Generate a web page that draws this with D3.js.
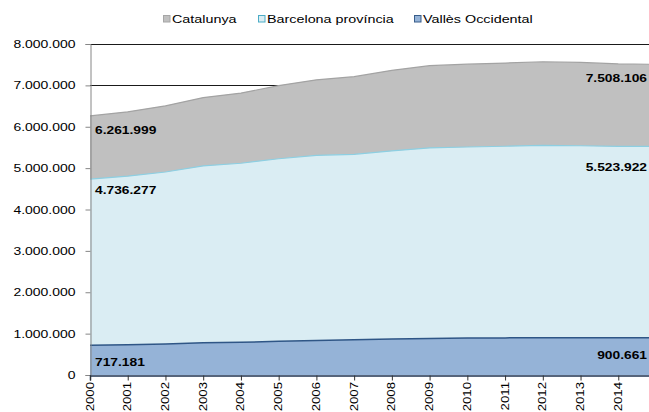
<!DOCTYPE html>
<html>
<head>
<meta charset="utf-8">
<script src="https://cdn.jsdelivr.net/npm/d3@7"></script>
<style>
  body { margin: 0; background: #fff; }
  svg { display: block; font-family: "Liberation Sans", Arial, sans-serif; }
</style>
</head>
<body>
<svg id="vis" width="649" height="412"></svg>
<script>
// data (padró, inhabitants)
var years = [2000, 2001, 2002, 2003, 2004, 2005, 2006, 2007, 2008, 2009, 2010, 2011, 2012, 2013, 2014, 2015];
var catalunya = [6261999, 6361365, 6506440, 6704146, 6813319, 6995206, 7134697, 7210508, 7364078, 7475420, 7512381, 7539618, 7570908, 7553650, 7518903, 7508106];
var barcelona = [4736277, 4805927, 4906117, 5052666, 5117885, 5226354, 5309404, 5332513, 5416447, 5487935, 5511147, 5529099, 5552050, 5540925, 5523784, 5523922];
var valles = [717181, 734000, 752000, 777000, 790000, 815000, 836000, 850000, 868000, 884000, 892000, 897000, 901000, 900000, 899000, 900661];
var seriesNames = ["Catalunya", "Barcelona província", "Vallès Occidental"];
var yTicks = [0, 1000000, 2000000, 3000000, 4000000, 5000000, 6000000, 7000000, 8000000];

var fills = ["#c0c0c0", "#daedf3", "#95b3d7"];
var strokes = ["#a3a3a3", "#8dcfe2", "#2f5686"];
var boxStrokes = ["#a6a6a6", "#4bacc6", "#385d8a"];
var sx = 1.27; // the picture is stretched sideways

var svg = d3.select("#vis");

var x = d3.scaleLinear().domain([2000, 2015]).range([90, 656]);
var y = d3.scaleLinear().domain([0, 8000000]).range([375, 44]);

function fmt(v) {
    return d3.format(",")(v).replace(/,/g, ".");
}

// gridlines behind the areas
svg.append("g").selectAll("line")
    .data(yTicks.slice(1))
    .enter()
    .append("line")
    .attr("x1", 90)
    .attr("x2", 656)
    .attr("y1", function(d){ return Math.round(y(d)) + 0.5; })
    .attr("y2", function(d){ return Math.round(y(d)) + 0.5; })
    .attr("stroke", "#1a1a1a")
    .attr("stroke-width", 1);

var all = [catalunya, barcelona, valles];

all.forEach(function(vals, i) {
    var pts = years.map(function(yr, j){ return [yr, vals[j]]; });
    var area = d3.area()
        .x(function(d){ return x(d[0]); })
        .y0(y(0))
        .y1(function(d){ return y(d[1]); });
    var line = d3.line()
        .x(function(d){ return x(d[0]); })
        .y(function(d){ return y(d[1]); });
    svg.append("path").datum(pts)
        .attr("d", area)
        .attr("fill", fills[i]);
    svg.append("path").datum(pts)
        .attr("d", line)
        .attr("fill", "none")
        .attr("stroke", strokes[i])
        .attr("stroke-width", i == 2 ? 1.5 : 1.2);
});

// y axis
var yAxis = svg.append("g")
    .attr("transform", "translate(90.5,0)")
    .call(d3.axisLeft(y).tickValues(yTicks).tickSize(5).tickPadding(10).tickFormat(fmt));
yAxis.select(".domain").attr("stroke", "#868686");
yAxis.selectAll(".tick line").attr("stroke", "#868686");
yAxis.selectAll(".tick text")
    .attr("font-family", "Liberation Sans, Arial, sans-serif")
    .attr("font-size", 11)
    .attr("fill", "#000")
    .attr("x", -15 / sx)
    .attr("transform", "scale(" + sx + ",1)");

// x axis
var xAxis = svg.append("g")
    .attr("transform", "translate(0,375.5)")
    .call(d3.axisBottom(x).tickValues(years.slice(0, 15)).tickSize(5).tickFormat(d3.format("d")));
xAxis.select(".domain").attr("stroke", "#1f3350").attr("stroke-width", 1.5);
xAxis.selectAll(".tick line").attr("stroke", "#333");
xAxis.selectAll(".tick text")
    .attr("font-family", "Liberation Sans, Arial, sans-serif")
    .attr("font-size", 11.5)
    .attr("fill", "#000")
    .attr("text-anchor", "end")
    .attr("transform", "rotate(-90) scale(1.15,1)")
    .attr("x", -6.5 / 1.15)
    .attr("y", -1)
    .attr("dy", "0.35em");

// value labels at first and last year
var labelOffsets = [[18, 18], [15, 25], [21, 21]];
all.forEach(function(vals, i) {
    var first = vals[0], last = vals[vals.length - 1];
    svg.append("text")
        .attr("transform", "translate(" + (x(2000) + 5) + "," + (y(first) + labelOffsets[i][0]) + ") scale(" + 1.2 + ",1)")
        .attr("font-size", 11.5)
        .attr("font-weight", "bold")
        .attr("fill", "#000")
        .text(fmt(first));
    svg.append("text")
        .attr("transform", "translate(" + 647 + "," + (y(last) + labelOffsets[i][1]) + ") scale(" + 1.2 + ",1)")
        .attr("text-anchor", "end")
        .attr("font-size", 11.5)
        .attr("font-weight", "bold")
        .attr("fill", "#000")
        .text(fmt(last));
});

// legend
var legX = [163, 258, 414];
var legend = svg.append("g");
legend.selectAll("rect")
    .data(seriesNames)
    .enter()
    .append("rect")
    .attr("x", function(d, i){ return legX[i] + 0.5; })
    .attr("y", 15.5)
    .attr("width", 6.5)
    .attr("height", 6.5)
    .attr("fill", function(d, i){ return fills[i]; })
    .attr("stroke", function(d, i){ return boxStrokes[i]; });
legend.selectAll("text")
    .data(seriesNames)
    .enter()
    .append("text")
    .attr("transform", function(d, i){ return "translate(" + (legX[i] + 9) + ",22.5) scale(" + sx + ",1)"; })
    .attr("font-size", 11.3)
    .attr("fill", "#000")
    .text(function(d){ return d; });
</script>
</body>
</html>
